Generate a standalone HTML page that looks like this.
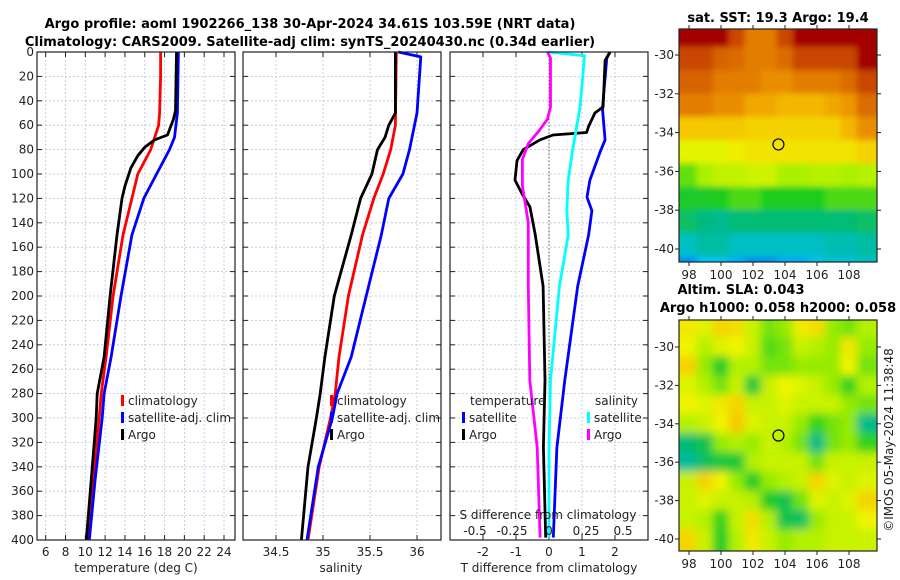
<!DOCTYPE html>
<html><head><meta charset="utf-8">
<style>
body{margin:0;background:#fff;}
svg{display:block;font-family:"DejaVu Sans","Liberation Sans",sans-serif;}
.tk{font-size:12px;fill:#222;}
.tt{font-size:13px;font-weight:bold;fill:#000;}
</style></head>
<body>
<svg id="fig" width="900" height="580" viewBox="0 0 900 580">
<defs>
<filter id="blurS" x="-5%" y="-5%" width="110%" height="110%"><feGaussianBlur stdDeviation="3"/></filter>
<filter id="blurA" x="-5%" y="-5%" width="110%" height="110%"><feGaussianBlur stdDeviation="4.5"/></filter>
</defs>
<text class="tt" x="310" y="28" text-anchor="middle">Argo profile: aoml 1902266_138 30-Apr-2024 34.61S 103.59E (NRT data)</text>
<text class="tt" x="310" y="46" text-anchor="middle">Climatology: CARS2009. Satellite-adj clim: synTS_20240430.nc (0.34d earlier)</text>
<text class="tt" x="778" y="22" text-anchor="middle">sat. SST: 19.3 Argo: 19.4</text>
<text class="tt" x="741" y="294" text-anchor="middle">Altim. SLA: 0.043</text>
<text class="tt" x="778" y="312" text-anchor="middle">Argo h1000: 0.058 h2000: 0.058</text>
<text class="tk" transform="translate(893,440) rotate(-90)" text-anchor="middle">©IMOS 05-May-2024 11:38:48</text>
</svg>
<script>
// ---------- data ----------
const depthTicks=[0,20,40,60,80,100,120,140,160,180,200,220,240,260,280,300,320,340,360,380,400];
const tTicks=[6,8,10,12,14,16,18,20,22,24];
const sTicks=[34.5,35,35.5,36];
const dtTicks=[-2,-1,0,1,2];
const dsTicks=[-0.5,-0.25,0,0.25,0.5];
const dsTickLabels=["-0.5","-0.25","0","0.25","0.5"];

const tClimDepth=[0,20,50,60,70,80,100,120,150,200,250,280,300,350,400];
const tClimVal=[17.6,17.6,17.5,17.4,17.0,16.6,15.3,14.7,13.8,12.8,12.1,11.6,11.4,10.8,10.2];
const tSatDepth=[0,50,70,80,100,120,150,200,250,280,300,350,400];
const tSatVal=[19.4,19.3,19.0,18.5,17.2,15.9,14.7,13.6,12.6,11.9,11.7,11.0,10.4];
const tArgoDepth=[0,48,55,68,72,78,85,95,110,120,150,200,250,280,300,350,400];
const tArgoVal=[19.2,19.1,18.9,18.3,17.0,16.0,15.3,14.6,14.0,13.7,13.2,12.5,11.9,11.2,11.1,10.6,10.1];

const sClimDepth=[0,60,80,100,120,150,200,250,280,300,340,400];
const sClimVal=[35.78,35.77,35.72,35.64,35.54,35.42,35.27,35.17,35.13,35.08,34.96,34.84];
const sSatDepth=[0,4,50,80,100,120,150,200,250,280,300,340,400];
const sSatVal=[35.8,36.04,36.0,35.92,35.85,35.7,35.62,35.46,35.3,35.15,35.1,34.95,34.83];
const sArgoDepth=[0,50,60,70,80,100,120,150,200,250,280,300,340,400];
const sArgoVal=[35.77,35.77,35.7,35.66,35.58,35.52,35.4,35.3,35.12,35.02,34.97,34.93,34.84,34.77];

const dTSatDepth=[0,5,40,47,72,82,105,119,130,150,192,269,324,398];
const dTSatVal=[1.85,1.75,1.64,1.62,1.7,1.55,1.24,1.15,1.3,1.2,0.87,0.48,0.24,0.13];
const dTArgoDepth=[0,7,45,50,61,66,68,72,80,89,105,116,127,149,192,269,324,398];
const dTArgoVal=[1.85,1.7,1.64,1.39,1.2,1.14,0.12,-0.27,-0.78,-0.97,-1.03,-0.82,-0.58,-0.42,-0.18,-0.12,-0.17,-0.1];
const dSSatDepth=[0,3,45,80,105,130,150,192,269,324,398];
const dSSatVal=[-0.01,0.24,0.21,0.16,0.13,0.12,0.13,0.07,0.01,0,0];
const dSArgoDepth=[0,5,45,55,65,75,88,110,140,192,269,324,398];
const dSArgoVal=[-0.01,0.01,0.01,-0.01,-0.07,-0.14,-0.18,-0.18,-0.14,-0.14,-0.13,-0.08,-0.06];

const mapLonTicks=[98,100,102,104,106,108];
const mapLatTicks=[-30,-32,-34,-36,-38,-40];
const sstLatCenters=[-29,-30.2,-31.4,-32.6,-33.8,-35,-36.2,-37.4,-38.6,-39.8,-41];
const sstGrid=[
[21.5,21.5,21.5,21,20.5,20.5,21,21.5,21.5,21.5,21.5,21.5],
[21,21,20.8,20.7,20.5,20.5,20.7,21,21,21,21,21.5],
[20.8,20.8,20.5,20.5,20.5,20.3,20.3,20.5,20.5,20.5,20.7,21],
[20.5,20.5,20.3,20.3,20,20,19.8,19.8,19.8,20,20.2,20.7],
[19.6,19.6,19.6,19.6,19.5,19.5,19.5,19.5,19.5,19.5,19.8,20.3],
[19,19,19,19.2,19.3,19.3,19.3,19.3,19.3,19.3,19.3,19.5],
[18.2,18.5,18.7,18.7,18.8,18.8,18.5,18.5,18.6,18.6,18.5,18.6],
[17.8,17.8,17.9,18.1,18.1,17.9,17.9,17.9,17.9,18.1,18.1,18.1],
[17.4,17.2,17.1,17.3,17.3,17.3,17.3,17.3,17.3,17.3,17.3,17.4],
[16.8,17,17,16.8,16.8,16.8,16.8,16.8,16.8,16.9,16.9,17],
[16.3,16.5,16.5,16.4,16.3,16.3,16.4,16.4,16.6,16.7,16.7,16.8]];
const slaLatCenters=[-29,-30,-31,-32,-33,-34,-35,-36,-37,-38,-39,-40];
const slaGrid=[
[.08,.06,.10,.09,.05,.02,.03,.08,.09,.03,.02,.04],
[.07,.04,.06,.07,.05,.01,.02,.05,.04,.03,.08,.03],
[.10,.03,-.01,.04,.04,.02,.02,.03,.03,.03,.07,.02],
[.06,.04,.02,.05,-.02,.05,.07,.06,.05,.03,.0,.04],
[.07,.06,.08,.10,.05,.05,.06,.05,.05,.05,.03,.02],
[.04,.05,.07,.11,.06,.05,.05,.03,.0,.02,.03,-.06],
[-.05,-.03,.03,.04,.03,.05,.04,.02,-.06,.02,.03,.0],
[-.07,-.04,-.02,-.02,.04,.05,.05,.05,.02,.05,.05,.05],
[.05,.10,.07,.03,-.01,.03,.04,.05,.10,.06,.05,.06],
[.05,.06,.05,.05,.04,-.01,-.03,.02,.06,.05,.06,.10],
[.05,.04,.0,.05,.09,.04,-.03,-.04,.03,.05,.05,.07],
[.10,.05,-.01,.04,.08,.05,.03,.04,.04,.05,.05,.05]];
const argoLon=103.59, argoLat=-34.61;

// ---------- helpers ----------
const svg=document.getElementById('fig');
const NS='http://www.w3.org/2000/svg';
function mk(tag,attrs,parent){const e=document.createElementNS(NS,tag);for(const k in attrs)e.setAttribute(k,attrs[k]);(parent||svg).appendChild(e);return e;}
function txt(x,y,s,anchor,cls,parent){const t=mk('text',{x:x,y:y,'text-anchor':anchor||'middle',class:cls||'tk'},parent);t.textContent=s;return t;}
const Y0=52,Y1=540;
const yD=d=>Y0+d*(Y1-Y0)/400;
const xT=v=>45.7+(v-6)*(224-45.7)/18;
const xS=v=>276+(v-34.5)*94;
const xdT=v=>549+v*33;
const xdS=v=>549+v*148;

function panel(x0,x1,name){
  const g=mk('g',{});
  
  
  depthTicks.forEach(d=>{
    const l=mk('line',{x1:x0,x2:x1,y1:yD(d),y2:yD(d),stroke:'#b8c4e0','stroke-width':0.8,'stroke-dasharray':'2,2'},g);
    
    
    mk('line',{x1:x0,x2:x0+5,y1:yD(d),y2:yD(d),stroke:'#222'},g);
    mk('line',{x1:x1-5,x2:x1,y1:yD(d),y2:yD(d),stroke:'#222'},g);
  });
  return g;
}
function vgrid(g,xs){
  xs.forEach(x=>{
    const l=mk('line',{x1:x,x2:x,y1:Y0,y2:Y1,stroke:'#b8c4e0','stroke-width':0.8,'stroke-dasharray':'2,2'},g);
    
    
    mk('line',{x1:x,x2:x,y1:Y0,y2:Y0+5,stroke:'#222'},g);
    mk('line',{x1:x,x2:x,y1:Y1-5,y2:Y1,stroke:'#222'},g);
  });
}
function frame(g,x0,x1){mk('rect',{x:x0,y:Y0,width:x1-x0,height:Y1-Y0,fill:'none',stroke:'#222','stroke-width':1.2},g);}
function line(g,ds,vs,fx,color,name,w){
  const p=ds.map((d,i)=>fx(vs[i]).toFixed(1)+','+yD(d).toFixed(1)).join(' ');
  const pl=mk('polyline',{points:p,fill:'none',stroke:color,'stroke-width':w||2.8,'stroke-linejoin':'round'},g);
  
  
}
function legItem(g,x,y,color,label,name){
  const it=mk('g',{},g);
  
  
  mk('rect',{x:x,y:y-10,width:3,height:11,fill:color},it);
  txt(x+7,y,label,'start','tk',it);
}

depthTicks.forEach(d=>{const t=txt(34,yD(d)+4,String(d),'end');});

const g1=panel(37,235,'temperature-panel');
vgrid(g1,tTicks.map(xT));
line(g1,tClimDepth,tClimVal,xT,'#ff0000','temp-climatology-line');
line(g1,tSatDepth,tSatVal,xT,'#0000ff','temp-satellite-line');
line(g1,tArgoDepth,tArgoVal,xT,'#000000','temp-argo-line');
frame(g1,37,235);
tTicks.forEach(v=>txt(xT(v),556,String(v)));
txt(136,572,'temperature (deg C)');
legItem(g1,121,405,'#ff0000','climatology','legend-climatology');
legItem(g1,121,422,'#0000ff','satellite-adj. clim','legend-satellite-adj');
legItem(g1,121,439,'#000000','Argo','legend-argo');

const g2=panel(243,441,'salinity-panel');
vgrid(g2,sTicks.map(xS));
line(g2,sClimDepth,sClimVal,xS,'#ff0000','sal-climatology-line');
line(g2,sSatDepth,sSatVal,xS,'#0000ff','sal-satellite-line');
line(g2,sArgoDepth,sArgoVal,xS,'#000000','sal-argo-line');
frame(g2,243,441);
sTicks.forEach(v=>txt(xS(v),556,String(v)));
txt(341,572,'salinity');
legItem(g2,330,405,'#ff0000','climatology','legend-climatology-2');
legItem(g2,330,422,'#0000ff','satellite-adj. clim','legend-satellite-adj-2');
legItem(g2,330,439,'#000000','Argo','legend-argo-2');

const g3=panel(450,648,'difference-panel');
vgrid(g3,dtTicks.map(xdT));
mk('line',{x1:xdT(0),x2:xdT(0),y1:Y0,y2:Y1,stroke:'#556b2f','stroke-width':1,'stroke-dasharray':'1.5,2'},g3);
line(g3,dTSatDepth,dTSatVal,xdT,'#0000ff','dT-satellite-line');
line(g3,dTArgoDepth,dTArgoVal,xdT,'#000000','dT-argo-line');
line(g3,dSSatDepth,dSSatVal,xdS,'#00ffff','dS-satellite-line');
line(g3,dSArgoDepth,dSArgoVal,xdS,'#ff00ff','dS-argo-line');
frame(g3,450,648);
dtTicks.forEach(v=>txt(xdT(v),556,String(v)));
txt(549,572,'T difference from climatology');
txt(548,519,'S difference from climatology');
dsTicks.forEach((v,i)=>txt(xdS(v),535,dsTickLabels[i]));
txt(470,405,'temperature','start');
txt(595,405,'salinity','start');
legItem(g3,462,422,'#0000ff','satellite','legend-dT-satellite');
legItem(g3,462,439,'#000000','Argo','legend-dT-argo');
legItem(g3,587,422,'#00ffff','satellite','legend-dS-satellite');
legItem(g3,587,439,'#ff00ff','Argo','legend-dS-argo');

// palette
const palStops=[0,0.15,0.3,0.42,0.52,0.6,0.7,0.8,0.9,1];
const palCols=[[0,70,230],[0,195,245],[0,185,130],[30,205,30],[170,240,0],[240,245,0],[245,200,0],[238,150,0],[215,100,0],[165,0,0]];
function pal(t){t=Math.max(0,Math.min(1,t));
  let i=0;while(i<palStops.length-2&&t>palStops[i+1])i++;
  const f=(t-palStops[i])/(palStops[i+1]-palStops[i]);
  const c=palCols[i].map((a,k)=>Math.round(a+(palCols[i+1][k]-a)*f));
  return 'rgb('+c.join(',')+')';}
const sstVals=[16.0,16.5,17.2,17.9,18.5,19.1,19.6,20.2,20.8,21.5];
function sstColor(v){let i=0;while(i<sstVals.length-2&&v>sstVals[i+1])i++;
  const f=Math.max(0,Math.min(1,(v-sstVals[i])/(sstVals[i+1]-sstVals[i])));
  return pal(palStops[i]+f*(palStops[i+1]-palStops[i]));}

function map(top,bot,grid,latC,lat30y,lat40y,cfn,name,filt){
  const L=679,R=877;
  const xL=lon=>689+(lon-98)*16;
  const yL=lat=>lat30y+(-30-lat)*(lat40y-lat30y)/10;
  const g=mk('g',{});
  
  
  const cp=mk('clipPath',{id:name+'-clip'},g);
  mk('rect',{x:L,y:top,width:R-L,height:bot-top},cp);
  const outer=mk('g',{'clip-path':'url(#'+name+'-clip)'},g);
  const cg=mk('g',{filter:'url(#'+filt+')'},outer);
  const dLat=Math.abs(latC[1]-latC[0]);
  grid.forEach((row,i)=>row.forEach((v,j)=>{
    const lon=98+j;
    let x=xL(lon-0.5), w=16.6;
    if(j===0){x-=12;w+=12;} if(j===row.length-1){w+=12;}
    let y=yL(latC[i]+dLat/2), h=Math.abs(yL(latC[i]-dLat/2)-yL(latC[i]+dLat/2))+0.6;
    if(i===0){y-=12;h+=12;} if(i===grid.length-1){h+=12;}
    const c=mk('rect',{x:x-0.3,y:y-0.3,width:w,height:h,fill:cfn(v)},cg);
    
    
  }));
  mk('circle',{cx:xL(argoLon),cy:yL(argoLat),r:5.5,fill:'none',stroke:'#000','stroke-width':1.2},g);
  mk('rect',{x:L,y:top,width:R-L,height:bot-top,fill:'none',stroke:'#222','stroke-width':1.2},g);
  mapLonTicks.forEach(lon=>{mk('line',{x1:xL(lon),x2:xL(lon),y1:bot,y2:bot+4,stroke:'#222'},g);mk('line',{x1:xL(lon),x2:xL(lon),y1:top,y2:top-4,stroke:'#222'},g);txt(xL(lon),bot+17,String(lon),'middle','tk',g);});
  mapLatTicks.forEach(lat=>{mk('line',{x1:L-4,x2:L,y1:yL(lat),y2:yL(lat),stroke:'#222'},g);mk('line',{x1:R,x2:R+4,y1:yL(lat),y2:yL(lat),stroke:'#222'},g);txt(L-5,yL(lat)+4,String(lat),'end','tk',g);});
}
map(29,262,sstGrid,sstLatCenters,55,249,sstColor,'sst-map','blurS');
map(320,551,slaGrid,slaLatCenters,347,539,v=>pal(0.53+(v-0.04)*2.4),'sla-map','blurA');
</script>
</body></html>
